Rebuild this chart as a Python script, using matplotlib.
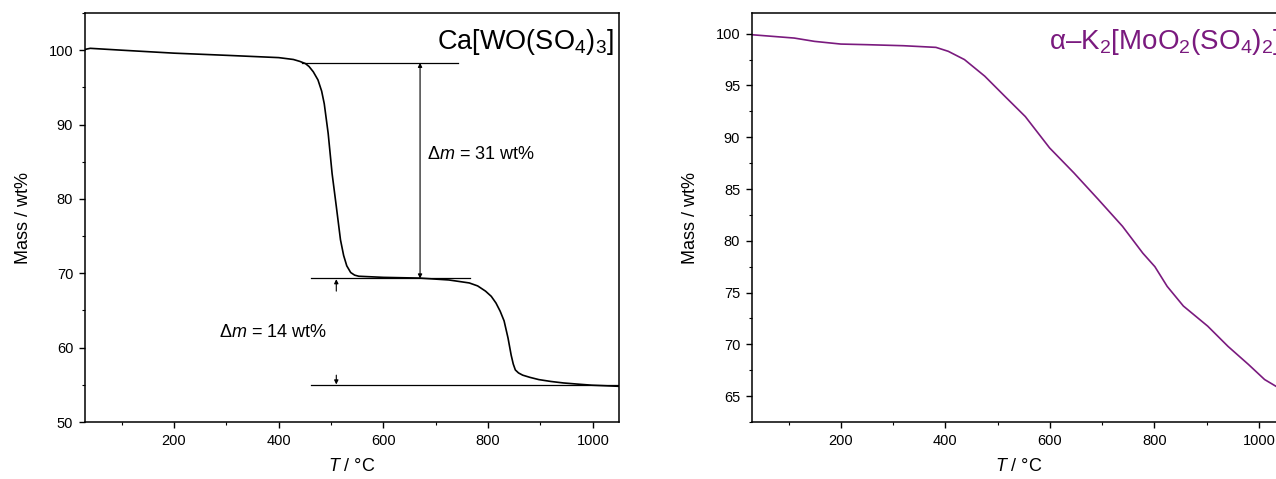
import matplotlib.pyplot as plt
from matplotlib.ticker import MultipleLocator

plt.rcParams.update({
    'font.family': 'Liberation Sans',
    'mathtext.fontset': 'custom',
    'mathtext.rm': 'Liberation Sans',
    'mathtext.it': 'Liberation Sans:italic',
    'font.size': 10.5,
})

# Ca[WO(SO4)3] thermogram (T in degC, mass in wt%)
t_ca = [30, 40, 100, 200, 303, 400, 428, 440, 451, 458, 466, 475, 482, 487,
        494.5, 502, 510, 518, 524, 530, 537.5, 545, 553, 600, 670, 725, 764,
        780, 795, 806, 815, 823, 830.5, 838, 844, 848, 852, 858, 866, 880,
        897, 920, 944, 970, 998, 1050]
m_ca = [100.1, 100.25, 100.0, 99.6, 99.3, 99.0, 98.75, 98.5, 98.2, 97.8,
        97.1, 96.0, 94.5, 92.8, 88.8, 83.4, 79.0, 74.5, 72.4, 71.0, 70.1,
        69.75, 69.6, 69.45, 69.35, 69.1, 68.7, 68.3, 67.6, 66.9, 66.0, 64.9,
        63.6, 61.3, 59.0, 57.8, 57.0, 56.6, 56.3, 56.0, 55.7, 55.45, 55.25,
        55.1, 54.95, 54.8]

# alpha-K2[MoO2(SO4)2] thermogram
t_k = [30, 110.8, 149.6, 200, 250.4, 320, 382, 405.6, 436.6, 475.4, 514, 553,
       599.5, 646, 692.6, 739, 778, 801, 824.5, 855.5, 902, 941, 980, 1011, 1032]
m_k = [99.9, 99.58, 99.26, 99.0, 98.94, 98.84, 98.68, 98.3, 97.5, 95.9, 93.95,
       92.0, 88.97, 86.56, 84.0, 81.4, 78.8, 77.5, 75.6, 73.7, 71.76, 69.8,
       68.06, 66.6, 65.97]

# step marker levels and extents for the Ca compound
step_levels = [98.3, 69.3, 54.95]
step_x0 = [444, 461, 461]
step_x1 = [742, 766, 1050]
dm_labels = ['31', '14']

purple = '#7a1a7e'

fig = plt.figure(figsize=(12.76, 4.79), dpi=100)
ax1 = fig.add_axes([85/1276, 57/479, 534/1276, 409/479])
ax2 = fig.add_axes([752/1276, 57/479, 533/1276, 409/479])

for ax in (ax1, ax2):
    ax.set_xlim(30, 1050)
    ax.xaxis.set_major_locator(MultipleLocator(200))
    ax.xaxis.set_minor_locator(MultipleLocator(100))
    ax.tick_params(which='major', direction='out', length=4.5, width=1.0,
                   labelsize=10.5, pad=4)
    ax.tick_params(which='minor', direction='out', length=2.5, width=0.8)
    for s in ax.spines.values():
        s.set_linewidth(1.1)
    ax.set_xlabel('$T$ / °C', fontsize=13, labelpad=7)
    ax.set_ylabel('Mass / wt%', fontsize=13, labelpad=12)

# left panel
ax1.plot(t_ca, m_ca, color='black', lw=1.2)
ax1.set_ylim(50, 105)
ax1.yaxis.set_major_locator(MultipleLocator(10))
ax1.yaxis.set_minor_locator(MultipleLocator(5))
for lvl, a, b in zip(step_levels, step_x0, step_x1):
    ax1.plot([a, b], [lvl, lvl], color='black', lw=0.9)

ax1.annotate('', xy=(670, step_levels[0]), xytext=(670, step_levels[1]),
             arrowprops=dict(arrowstyle='<|-|>', color='black', lw=0.8,
                             mutation_scale=6, shrinkA=0, shrinkB=0))
ax1.annotate('', xy=(510, step_levels[1] - 0.1), xytext=(510, 67.6),
             arrowprops=dict(arrowstyle='-|>', color='black', lw=0.8,
                             mutation_scale=6, shrinkA=0, shrinkB=0))
ax1.annotate('', xy=(510, step_levels[2] + 0.1), xytext=(510, 56.3),
             arrowprops=dict(arrowstyle='-|>', color='black', lw=0.8,
                             mutation_scale=6, shrinkA=0, shrinkB=0))
ax1.text(683, 86.0, 'Δ$m$ = ' + dm_labels[0] + ' wt%', fontsize=13,
         ha='left', va='center')
ax1.text(286, 62.0, 'Δ$m$ = ' + dm_labels[1] + ' wt%', fontsize=13,
         ha='left', va='center')
ax1.text(0.99, 0.93, 'Ca[WO(SO$_4$)$_3$]', transform=ax1.transAxes,
         fontsize=19.5, ha='right', va='center')

# right panel
ax2.plot(t_k, m_k, color=purple, lw=1.2)
ax2.set_ylim(62.5, 102)
ax2.yaxis.set_major_locator(MultipleLocator(5))
ax2.yaxis.set_minor_locator(MultipleLocator(2.5))
ax2.text(598, 99.2, 'α–K$_2$[MoO$_2$(SO$_4$)$_2$]', color=purple,
         fontsize=20, ha='left', va='center')

fig.savefig('out.png', dpi=100)
